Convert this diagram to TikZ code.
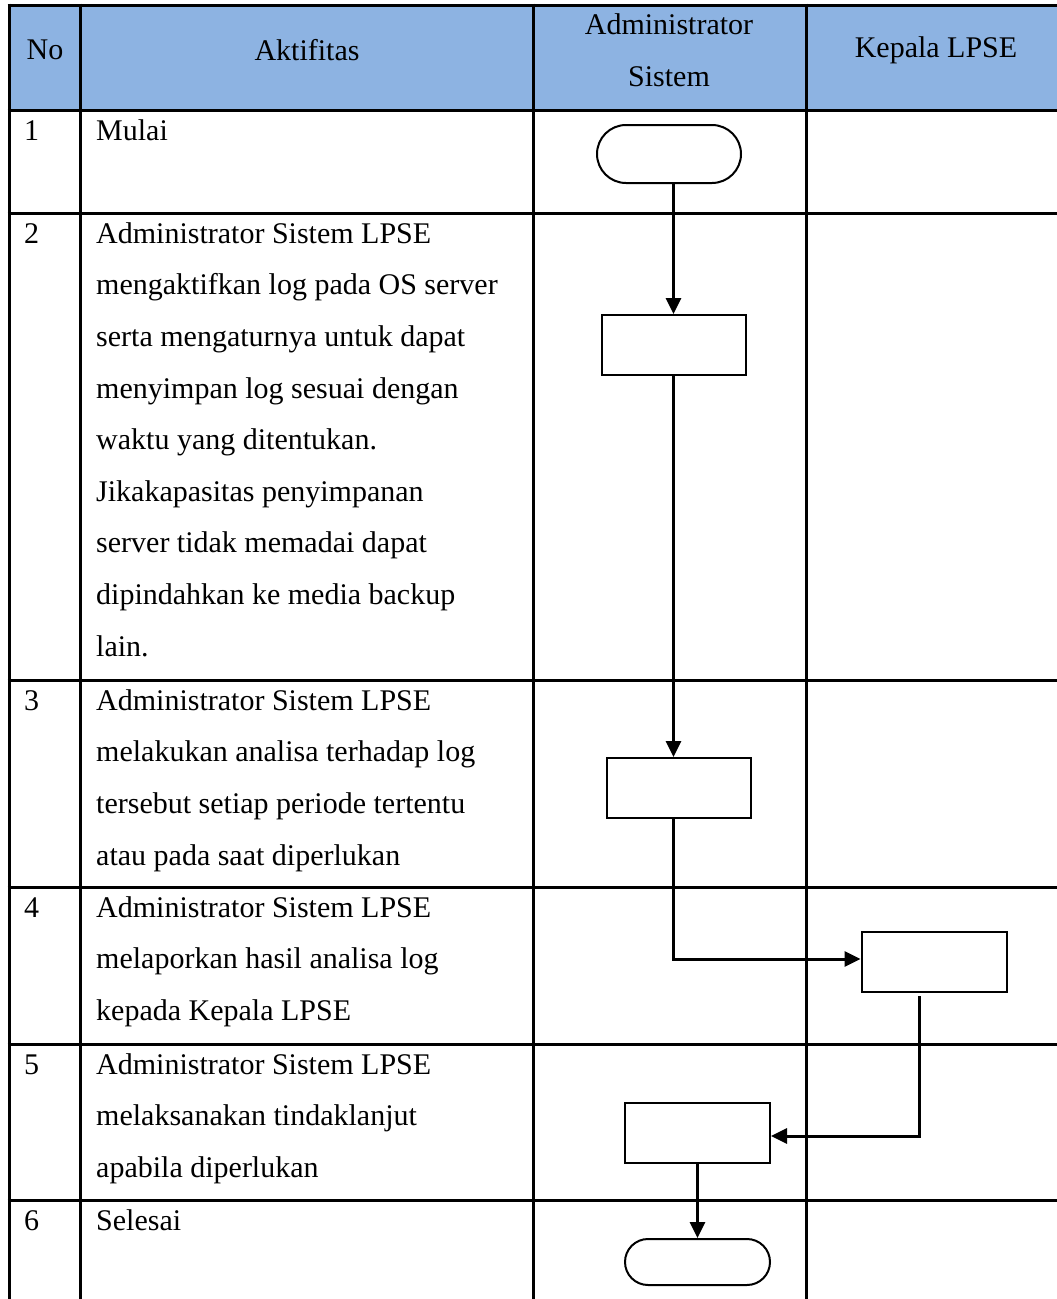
\documentclass[tikz,border=0pt]{standalone}
\usepackage{fontspec}
\setmainfont{Liberation Serif}
\usepackage{tikz}
\usetikzlibrary{arrows.meta}
\definecolor{headblue}{HTML}{8DB3E2}
\tikzstyle{startstop} = [rectangle, rounded corners=23pt, minimum width=145pt, minimum height=46pt, draw=black, line width=2pt, fill=white]
\tikzstyle{process} = [rectangle, minimum width=145pt, minimum height=60pt, draw=black, line width=2pt, fill=white]
\tikzstyle{arrow} = [line width=3pt,-{Triangle[length=16pt,width=15pt]}]
\tikzstyle{grid} = [line width=3pt]
\tikzstyle{cell} = [anchor=north west, inner sep=0pt, align=left, font=\fontsize{30}{51.6}\selectfont]
\tikzstyle{head} = [inner sep=0pt, align=center, font=\fontsize{30}{51.6}\selectfont]
\newcommand{\fl}{\rule{0pt}{22pt}}

\begin{document}
\begin{tikzpicture}[x=1pt,y=-1pt]
\useasboundingbox (0,0) rectangle (1057,1299);

% header
\fill[headblue] (9,5) rectangle (1057,110);
\foreach \y in {5,110,213,680,887,1044,1200}
  \draw[grid] (7.5,\y) -- (1057,\y);
\foreach \x in {9,80,533,806}
  \draw[grid] (\x,3.5) -- (\x,1299);

\node (hno) [head] at (45,50) {No};
\node (hakt) [head] at (307,50) {Aktifitas};
\node (hadm) [head] at (669,50) {Administrator\\Sistem};
\node (hkep) [head] at (936,50) {Kepala LPSE};

% rows
\node (n1) [cell] at (24,118) {\fl 1};
\node (t1) [cell] at (96,118) {\fl Mulai};

\node (n2) [cell] at (24,221) {\fl 2};
\node (t2) [cell] at (96,221) {\fl Administrator Sistem LPSE\\
mengaktifkan log pada OS server\\
serta mengaturnya untuk dapat\\
menyimpan log sesuai dengan\\
waktu yang ditentukan.\\
Jikakapasitas penyimpanan\\
server tidak memadai dapat\\
dipindahkan ke media backup\\
lain.};

\node (n3) [cell] at (24,688) {\fl 3};
\node (t3) [cell] at (96,688) {\fl Administrator Sistem LPSE\\
melakukan analisa terhadap log\\
tersebut setiap periode tertentu\\
atau pada saat diperlukan};

\node (n4) [cell] at (24,895) {\fl 4};
\node (t4) [cell] at (96,895) {\fl Administrator Sistem LPSE\\
melaporkan hasil analisa log\\
kepada Kepala LPSE};

\node (n5) [cell] at (24,1052) {\fl 5};
\node (t5) [cell] at (96,1052) {\fl Administrator Sistem LPSE\\
melaksanakan tindaklanjut\\
apabila diperlukan};

\node (n6) [cell] at (24,1208) {\fl 6};
\node (t6) [cell] at (96,1208) {\fl Selesai};

% flow
\node (mulai) [startstop, minimum height=58pt, rounded corners=29pt, minimum width=144pt] at (669,154) {};
\node (aktif) [process, minimum width=144pt] at (673.5,345) {};
\node (analisa) [process, minimum width=144pt] at (679,788) {};
\node (lapor) [process] at (934,962) {};
\node (tindak) [process] at (697.5,1133) {};
\node (selesai) [startstop] at (697.5,1262) {};

\draw [arrow] (aktif.north |- mulai.south) -- (aktif.north);
\draw [arrow] (aktif.south) -- (aktif.south |- analisa.north);
\draw [arrow] (aktif.south |- analisa.south) |- ([yshift=3pt]lapor.west);
\draw [arrow] ([xshift=-15pt,yshift=-3pt]lapor.south) |- ([yshift=-3pt]tindak.east);
\draw [arrow] (tindak.south) -- (selesai.north);

\end{tikzpicture}
\end{document}
